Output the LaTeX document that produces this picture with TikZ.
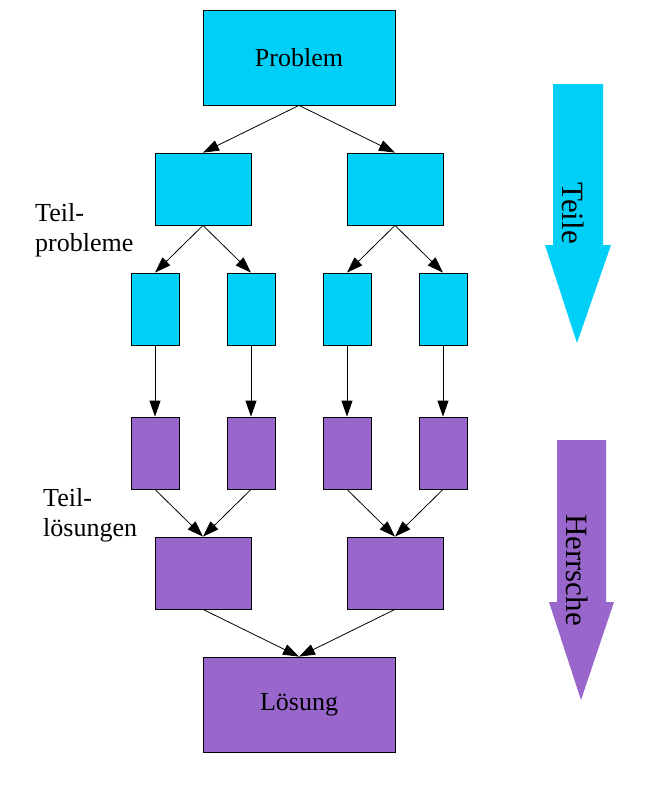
\documentclass[tikz,border=0pt]{standalone}
\usepackage{fontspec}
\setmainfont{Liberation Serif}
\usetikzlibrary{arrows.meta,positioning}
\definecolor{teilcol}{RGB}{0,208,248}
\definecolor{loescol}{RGB}{153,102,204}
\tikzset{box/.style={draw,fill=teilcol,line width=0.8pt,minimum width=#1,inner sep=0pt},
  box/.default=48pt,
  cbox/.style={box=#1,fill=loescol},
  cbox/.default=48pt,
  lab/.style={font=\fontsize{26}{30}\selectfont},
  biglab/.style={font=\fontsize{31}{36}\selectfont,rotate=-90}}

\begin{document}
\begin{tikzpicture}[x=1pt,y=-1pt,>={Triangle[length=16pt,width=11pt]}]
    \useasboundingbox (0,0) rectangle (651,801);
    % top half
    \node[box=192pt,minimum height=95pt,lab] (p) at (299,57.5) {Problem};
    \node[box=96pt,minimum height=72pt] (pa) at (203,189) {};
    \node[box=96pt,minimum height=72pt] (pb) at (395,189) {};
    \node[box,minimum height=72pt] (pa1) at (155,309) {};
    \node[box,minimum height=72pt] (pa2) at (251,309) {};
    \node[box,minimum height=72pt] (pb1) at (347,309) {};
    \node[box,minimum height=72pt] (pb2) at (443,309) {};
    % bottom half
    \node[cbox,minimum height=72pt] (la1) at (155,453) {};
    \node[cbox,minimum height=72pt] (la2) at (251,453) {};
    \node[cbox,minimum height=72pt] (lb1) at (347,453) {};
    \node[cbox,minimum height=72pt] (lb2) at (443,453) {};
    \node[cbox=96pt,minimum height=72pt] (la) at (203,573) {};
    \node[cbox=96pt,minimum height=72pt] (lb) at (395,573) {};
    \node[cbox=192pt,minimum height=95pt,lab] (l) at (299,704.5) {Lösung};

    \begin{scope}[line width=0.8pt]
    \draw [->] (p.south) -- (pa.north);
    \draw [->] (p.south) -- (pb.north);
    \draw [->] (pa.south) -- (pa1.north);
    \draw [->] (pa.south) -- (pa2.north);
    \draw [->] (pb.south) -- (pb1.north);
    \draw [->] (pb.south) -- (pb2.north);
    \draw [->] (pa1) -- (la1);
    \draw [->] (pa2) -- (la2);
    \draw [->] (pb1) -- (lb1);
    \draw [->] (pb2) -- (lb2);
    \draw [->] (la1.south) -- (la.north);
    \draw [->] (la2.south) -- (la.north);
    \draw [->] (lb1.south) -- (lb.north);
    \draw [->] (lb2.south) -- (lb.north);
    \draw [->] (la.south) -- (l.north);
    \draw [->] (lb.south) -- (l.north);
    \end{scope}

    \node[lab,align=left,anchor=north west,inner sep=0pt] (tp) at (35,203) {Teil-\\probleme};
    \node[lab,align=left,anchor=north west,inner sep=0pt] (tl) at (43,488) {Teil-\\lösungen};

    % big arrows
    \fill[teilcol] (553,84) -- (603,84) -- (603,245) -- (611,245) -- (577,343)
        -- (545,245) -- (553,245) -- cycle;
    \node[biglab] (teile) at (573,213) {Teile};
    \fill[loescol] (557,440) -- (606,440) -- (606,602) -- (614,602) -- (581,700)
        -- (549,602) -- (557,602) -- cycle;
    \node[biglab] (herr) at (577,570) {Herrsche};
\end{tikzpicture}
\end{document}
